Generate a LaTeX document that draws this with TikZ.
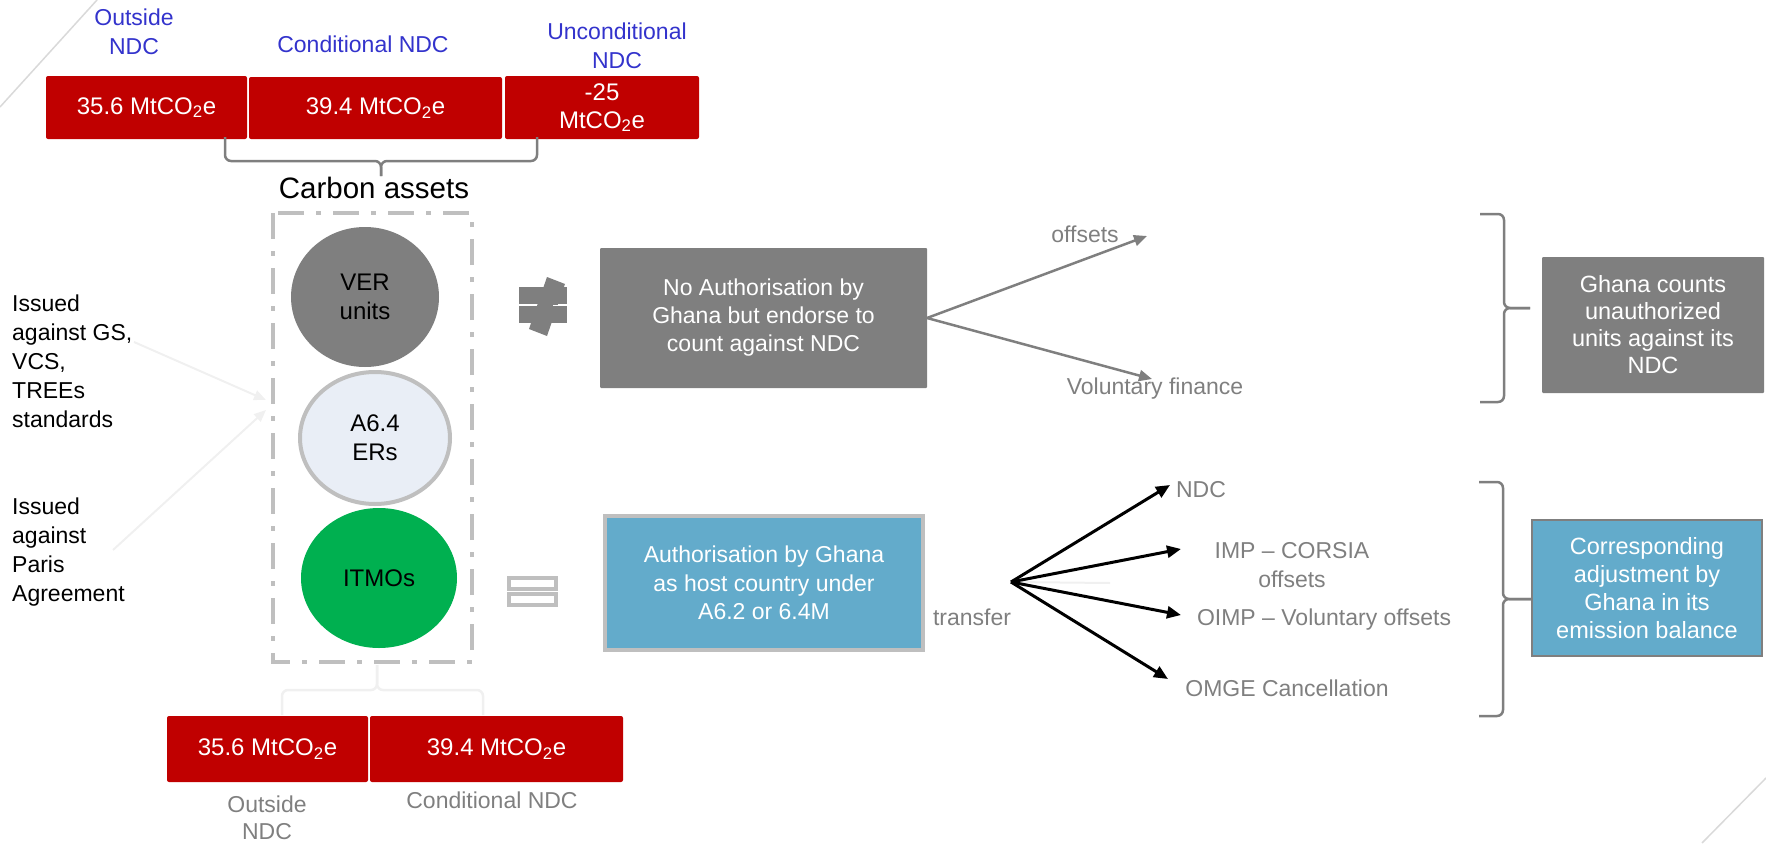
\documentclass[tikz,border=0pt]{standalone}
\usepackage{fontspec}
\setmainfont{Liberation Sans}
\usetikzlibrary{arrows.meta,shapes.geometric}
\definecolor{cred}{HTML}{C00000}
\definecolor{cgray}{HTML}{7F7F7F}
\definecolor{clight}{HTML}{BFBFBF}
\definecolor{cblue}{RGB}{99,171,203}
\definecolor{cgreen}{HTML}{00B050}
\definecolor{cpale}{HTML}{E9EEF6}
\definecolor{cnavy}{RGB}{51,51,204}
\definecolor{cfaint}{HTML}{F0F0F0}
\definecolor{cdeco}{HTML}{D9D9D9}
\newcommand{\fsbox}{\fontsize{24}{28}\selectfont}
\newcommand{\fslbl}{\fontsize{23}{29}\selectfont}
\begin{document}
\begin{tikzpicture}[x=1pt,y=-1pt,
  redbox/.style={fill=cred,text=white,rounded corners=2pt,inner sep=0pt,font=\fsbox,align=center},
  graybox/.style={fill=cgray,text=white,rounded corners=1pt,inner sep=0pt,font=\fontsize{23}{28}\selectfont,align=center},
  bluebox/.style={fill=cblue,text=white,inner sep=0pt,font=\fontsize{23}{28.5}\selectfont,align=center},
  bluelbl/.style={text=cnavy,font=\fslbl,align=center,inner sep=0pt},
  graylbl/.style={text=cgray,font=\fslbl,align=center,inner sep=0pt},
  blacklbl/.style={text=black,font=\fslbl,align=left,inner sep=0pt},
  bracestyle/.style={draw=cgray,line width=2.5pt,rounded corners=6pt},
  unit/.style={ellipse,inner sep=0pt,font=\fontsize{24}{29}\selectfont,align=center,text=black},
  grayarrow/.style={draw=cgray,line width=2.5pt,-{Triangle[length=13pt,width=11pt]}},
  blackarrow/.style={draw=black,line width=3pt,-{Triangle[length=14pt,width=12pt]}},
  faintarrow/.style={draw=cfaint,line width=2pt,-{Triangle[length=12pt,width=10pt]}}
]
\useasboundingbox (0,0) rectangle (1766,843);
% decorative diagonals
\draw[cdeco,line width=1.5pt] (0,107) -- (97,0);
\draw[cdeco,line width=1.5pt] (1702,843) -- (1766,778);

% top labels
\node[bluelbl] (tlout) at (134,32) {Outside\\NDC};
\node[bluelbl] (tlcond) at (363,44) {Conditional NDC};
\node[bluelbl] (tlunc) at (617,46) {Unconditional\\NDC};

% top red boxes
\node[redbox,minimum width=201pt,minimum height=63pt] (tb1) at (146.5,107.5) {35.6 MtCO\textsubscript{2}e};
\node[redbox,minimum width=253pt,minimum height=62pt] (tb2) at (375.5,108) {39.4 MtCO\textsubscript{2}e};
\node[redbox,minimum width=194pt,minimum height=63pt] (tb3) at (602,107.5) {-25\\MtCO\textsubscript{2}e};

% top brace
\draw[bracestyle] (225,137) -- (225,161) -- (381,161) -- (381,176);
\draw[bracestyle] (381,176) -- (381,161) -- (537,161) -- (537,137);
\node[font=\fontsize{29.5}{34}\selectfont,inner sep=0pt] (carbon) at (374,188) {Carbon assets};

% dashed container
\draw[clight,line width=4pt,dash pattern=on 26pt off 12pt on 5pt off 12pt] (273,213) rectangle (472,662);

% units
\node[unit,fill=cgray,minimum width=148pt,minimum height=140pt] (ver) at (365,297) {VER\\units};
\node[unit,fill=cpale,draw=clight,line width=4pt,minimum width=150pt,minimum height=132pt] (a64) at (375,438) {A6.4\\ERs};
\node[unit,fill=cgreen,minimum width=156pt,minimum height=140pt] (itmo) at (379,578) {ITMOs};

% left labels
\node[blacklbl,anchor=west] (iss1) at (12,361) {Issued\\against GS,\\VCS,\\TREEs\\standards};
\node[blacklbl,anchor=west] (iss2) at (12,552) {Issued\\against\\Paris\\Agreement};
\coordinate (iss1e) at (266,400);
\coordinate (iss2e) at (266,410);
\draw[faintarrow] (134,342) -- (iss1e);
\draw[faintarrow] (113,550) -- (iss2e);

% not-equal icon
\fill[cgray] (519,287) rectangle (567,304);
\fill[cgray] (519,306) rectangle (567,323);
\fill[cgray] (547,277) -- (565,284) -- (547,336) -- (529,329) -- cycle;
\draw[white,line width=1pt] (519,305) -- (533,305);
\draw[white,line width=1pt] (553,305) -- (567,305);

% equal icon
\draw[clight,line width=4pt,fill=white] (509,578) rectangle (556,589);
\draw[clight,line width=4pt,fill=white] (509,594) rectangle (556,605);

% gray box: no authorisation
\node[graybox,minimum width=327pt,minimum height=140pt] (noauth) at (763.5,318) {No Authorisation by\\Ghana but endorse to\\count against NDC};
\coordinate (offE) at (1147,236);
\coordinate (volE) at (1152,379);
\coordinate (fanA) at (927,318);
\draw[grayarrow] (fanA) -- (offE);
\draw[grayarrow] (fanA) -- (volE);
\node[graylbl] (offsets) at (1085,234) {offsets};
\node[graylbl] (volfin) at (1155,389) {Voluntary finance};

% top right brace and box
\draw[bracestyle] (1480,214) -- (1504,214) -- (1504,308) -- (1530,308);
\draw[bracestyle] (1530,308) -- (1504,308) -- (1504,402) -- (1480,402);
\node[graybox,minimum width=222pt,minimum height=136pt,font=\fontsize{23.5}{27}\selectfont] (ghana) at (1653,325) {Ghana counts\\unauthorized\\units against its\\NDC};

% blue box: authorisation
\node[bluebox,draw=clight,line width=4pt,minimum width=318pt,minimum height=134pt] (auth) at (764,583) {Authorisation by Ghana\\as host country under\\A6.2 or 6.4M};
\node[graylbl] (transfer) at (972,617) {transfer};

% bottom fan
\coordinate (fanB) at (1011,582);
\draw[cfaint,line width=2pt] (fanB) -- (1110,583);
\coordinate (ndcE) at (1170,485);
\coordinate (impE) at (1181,549);
\coordinate (oimpE) at (1181,615);
\coordinate (omgeE) at (1168,679);
\draw[blackarrow] (fanB) -- (ndcE);
\draw[blackarrow] (fanB) -- (impE);
\draw[blackarrow] (fanB) -- (oimpE);
\draw[blackarrow] (fanB) -- (omgeE);
\node[graylbl] (ndc) at (1201,490) {NDC};
\node[graylbl] (imp) at (1292,565) {IMP – CORSIA\\offsets};
\node[graylbl] (oimp) at (1324,620) {OIMP – Voluntary offsets};
\node[graylbl] (omge) at (1287,688) {OMGE Cancellation};

% bottom right brace and box
\draw[bracestyle] (1479,482) -- (1503,482) -- (1503,599) -- (1531,599);
\draw[bracestyle] (1531,599) -- (1503,599) -- (1503,716) -- (1479,716);
\node[bluebox,draw=cgray,line width=1.5pt,minimum width=230pt,minimum height=136pt,font=\fontsize{23.5}{28}\selectfont] (corr) at (1647,588) {Corresponding\\adjustment by\\Ghana in its\\emission balance};

% bottom faint brace
\draw[draw=cfaint,line width=2.5pt,rounded corners=6pt] (282,715) -- (282,690) -- (377,690) -- (377,665);
\draw[draw=cfaint,line width=2.5pt,rounded corners=6pt] (377,665) -- (377,690) -- (483,690) -- (483,715);

% bottom red boxes
\node[redbox,minimum width=201pt,minimum height=66pt] (bb1) at (267.5,749) {35.6 MtCO\textsubscript{2}e};
\node[redbox,minimum width=253pt,minimum height=66pt] (bb2) at (496.5,749) {39.4 MtCO\textsubscript{2}e};
\node[graylbl,font=\fontsize{23}{27}\selectfont] (blout) at (267,818) {Outside\\NDC};
\node[graylbl] (blcond) at (492,800) {Conditional NDC};
\end{tikzpicture}
\end{document}
